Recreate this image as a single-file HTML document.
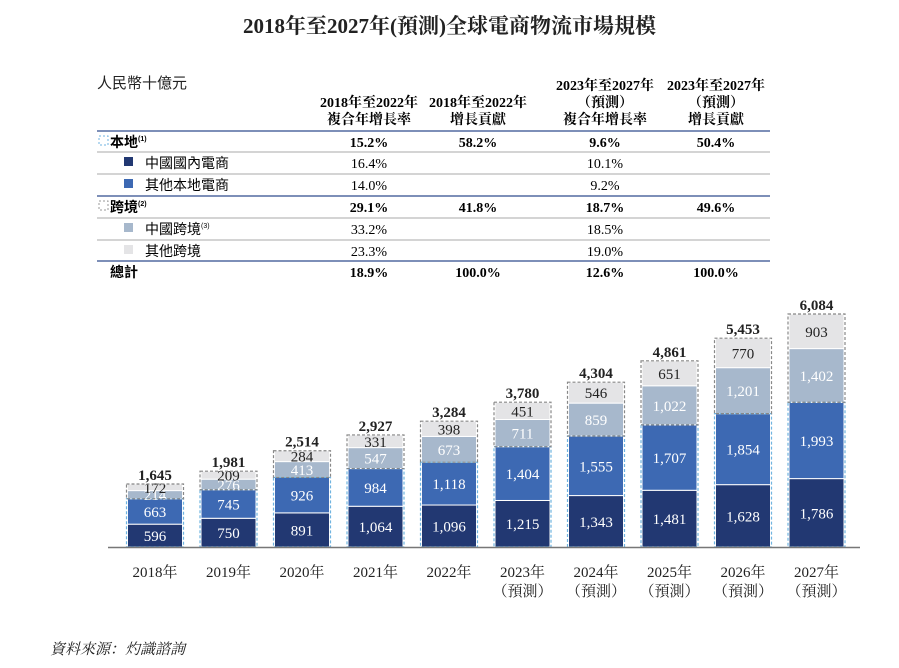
<!DOCTYPE html>
<html><head><meta charset="utf-8"><style>
body{margin:0;width:899px;height:668px;background:#fff;font-family:"Liberation Serif","Noto Serif CJK SC",serif;color:#222;position:relative;overflow:hidden}
.t{position:absolute;white-space:nowrap}
</style></head><body>
<div class="t" style="left:0;width:899px;text-align:center;top:10px;font-size:21px;font-weight:bold">2018年至2027年(預測)全球電商物流市場規模</div>
<div class="t" style="left:97px;top:72px;font-size:15px;font-family:'Liberation Sans','Noto Sans CJK TC',sans-serif">人民幣十億元</div>
<svg id="tbl" width="899" height="300" style="position:absolute;left:0;top:0" font-family="Liberation Serif, Noto Serif CJK SC, serif" font-size="14"></svg>
<svg id="chart" width="899" height="668" style="position:absolute;left:0;top:0" font-family="Liberation Serif, Noto Serif CJK SC, serif"></svg>
<div class="t" style="left:50px;top:638px;font-size:15px;font-style:italic">資料來源：灼識諮詢</div>
<script>
const years=["2018年","2019年","2020年","2021年","2022年","2023年","2024年","2025年","2026年","2027年"];
const forecast=[false,false,false,false,false,true,true,true,true,true];
const domesticChina=[596,750,891,1064,1096,1215,1343,1481,1628,1786];
const otherLocal=[663,745,926,984,1118,1404,1555,1707,1854,1993];
const chinaCross=[214,276,413,547,673,711,859,1022,1201,1402];
const otherCross=[172,209,284,331,398,451,546,651,770,903];
const totals=[1645,1981,2514,2927,3284,3780,4304,4861,5453,6084];
const series=[domesticChina,otherLocal,chinaCross,otherCross];
const colors=["#223872","#3d69b3","#a7b8cc","#e4e4e6"];
const textColors=["#fff","#fff","#fff","#222"];
const NS="http://www.w3.org/2000/svg";
const svg=document.getElementById('chart');
const baseY=547,scale=233/6084,x0=155,step=73.5,bw=55;
const xPos=i=>x0+i*step;
const yPos=v=>baseY-v*scale;
function mk(tag,at,parent){const e=document.createElementNS(NS,tag);for(const k in at)e.setAttribute(k,at[k]);(parent||svg).appendChild(e);return e;}
years.forEach((yr,i)=>{
  const cx=xPos(i);let cum=0;const tops=[];
  series.forEach((s,k)=>{
    const y1=yPos(cum),y2=yPos(cum+s[i]);
    const r=mk('rect',{x:cx-bw/2,y:y2,width:bw,height:y1-y2,fill:colors[k],stroke:'#fff','stroke-width':1});
    
    
    const t=mk('text',{x:cx,y:(y1+y2)/2+5.5,'text-anchor':'middle','font-size':15,fill:textColors[k]});
    t.textContent=s[i].toLocaleString('en-US');
    
    
    cum+=s[i];tops.push(cum);
  });
  const l=mk('rect',{x:cx-bw/2-1,y:yPos(tops[1]),width:bw+2,height:baseY-yPos(tops[1]),fill:'none',stroke:'#6fb3e0','stroke-width':1.2,'stroke-dasharray':'3,2'});
  
  
  const c=mk('rect',{x:cx-bw/2-1,y:yPos(tops[3]),width:bw+2,height:yPos(tops[1])-yPos(tops[3]),fill:'none',stroke:'#888','stroke-width':1.2,'stroke-dasharray':'3,2'});
  
  
  const tt=mk('text',{x:cx,y:yPos(totals[i])-4,'text-anchor':'middle','font-size':15,'font-weight':'bold',fill:'#222'});
  tt.textContent=totals[i].toLocaleString('en-US');
  
  
  const xl=mk('text',{x:cx,y:577,'text-anchor':'middle','font-size':15,fill:'#222'});
  xl.textContent=yr;
  
  
  if(forecast[i]){const f=mk('text',{x:cx,y:596,'text-anchor':'middle','font-size':15,fill:'#222'});f.textContent='（預測）';
  
  }
});
const ax=mk('line',{x1:108,x2:860,y1:baseY+0.5,y2:baseY+0.5,stroke:'#777','stroke-width':1.5});



// table
const tb=document.getElementById('tbl');
const cols=[369,478,605,716];
const heads=[["2018年至2022年","複合年增長率"],["2018年至2022年","增長貢獻"],["2023年至2027年","（預測）","複合年增長率"],["2023年至2027年","（預測）","增長貢獻"]];
heads.forEach((h,j)=>{const start=h.length==2?107:90;h.forEach((s,k)=>{const t=mk('text',{x:cols[j],y:start+k*17,'text-anchor':'middle','font-weight':'bold','font-size':14},tb);t.textContent=s;});});
const rows=[
 {n:"本地",sup:"(1)",y:147,b:true,v:["15.2%","58.2%","9.6%","50.4%"],ic:"dash",ind:0},
 {n:"中國國內電商",y:168,v:["16.4%","","10.1%",""],ic:colors[0],ind:1},
 {n:"其他本地電商",y:190,v:["14.0%","","9.2%",""],ic:colors[1],ind:1},
 {n:"跨境",sup:"(2)",y:212,b:true,v:["29.1%","41.8%","18.7%","49.6%"],ic:"dash2",ind:0},
 {n:"中國跨境",sup:"(3)",y:234,v:["33.2%","","18.5%",""],ic:colors[2],ind:1},
 {n:"其他跨境",y:256,v:["23.3%","","19.0%",""],ic:colors[3],ind:1},
 {n:"總計",y:277,b:true,v:["18.9%","100.0%","12.6%","100.0%"],ic:null,ind:0}];
rows.forEach(r=>{
  const lx=r.ind?145:110;
  if(r.ic==="dash"||r.ic==="dash2"){mk('rect',{x:99,y:r.y-11,width:9,height:9,fill:'none',stroke:r.ic==="dash"?'#6fb3e0':'#999','stroke-dasharray':'2,2'},tb);}
  else if(r.ic){mk('rect',{x:124,y:r.y-11,width:9,height:9,fill:r.ic},tb);}
  const t=mk('text',{x:lx,y:r.y,'font-size':14,'font-weight':r.b?'bold':'normal','font-family':'Liberation Sans, Noto Sans CJK TC, sans-serif'},tb);t.textContent=r.n;
  if(r.sup){const s=mk('tspan',{'font-size':7,dy:-6},t);s.textContent=r.sup;}
  r.v.forEach((v,j)=>{if(!v)return;const c=mk('text',{x:cols[j],y:r.y,'text-anchor':'middle','font-size':14,'font-weight':r.b?'bold':'normal'},tb);c.textContent=v;});
});
[[131,2,'#7d8fb8'],[152,1,'#aaa'],[174,1,'#aaa'],[196,2,'#7d8fb8'],[218,1,'#aaa'],[240,1,'#aaa'],[261,2,'#7d8fb8']].forEach(l=>mk('line',{x1:97,x2:770,y1:l[0],y2:l[0],stroke:l[2],'stroke-width':l[1]},tb));
</script>
</body></html>
